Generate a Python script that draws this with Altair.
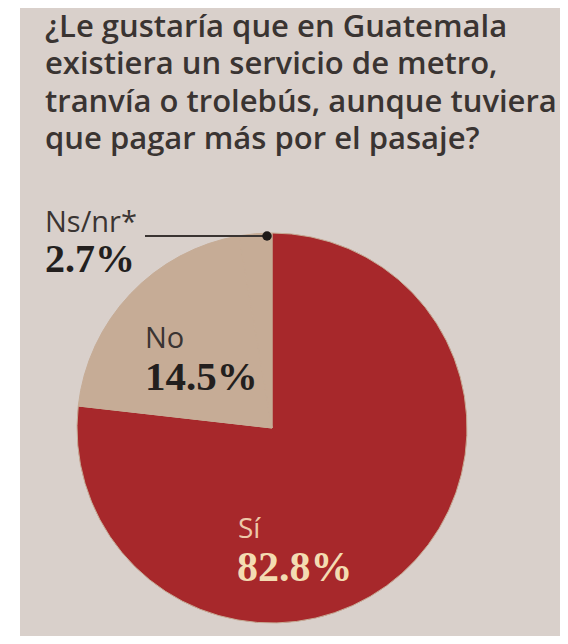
import altair as alt
import pandas as pd

# ---- data ----
categories = ["Sí", "No", "Ns/nr*"]
printed_pct = [82.8, 14.5, 2.7]          # values printed on the graphic
drawn_pct = [76.8, 20.5, 2.7]            # slice sizes as actually drawn in the graphic
slice_order = [1, 2, 3]
title_lines = [
    "¿Le gustaría que en Guatemala",
    "existiera un servicio de metro,",
    "tranvía o trolebús, aunque tuviera",
    "que pagar más por el pasaje?",
]

df = pd.DataFrame({"cat": categories, "drawn": drawn_pct, "order": slice_order})
one = pd.DataFrame({"k": [0]})

BG = "#d9d0cb"
RED = "#a7282b"
TAN = "#c6ac96"
INK = "#3a3432"
CREAM = "#f3dcb2"

SANS = "Open Sans"
SLAB = "Liberation Serif"

pie = alt.Chart(df).mark_arc(radius=195, stroke=TAN, strokeWidth=1).encode(
    theta=alt.Theta("drawn:Q", stack=True),
    order=alt.Order("order:Q"),
    color=alt.Color("cat:N", scale=alt.Scale(domain=categories, range=[RED, TAN, TAN]), legend=None),
    x=alt.value(252),
    y=alt.value(420),
)


def txt(s, x, y, size, weight="normal", font=SANS, color=INK):
    return alt.Chart(one).mark_text(
        align="left", baseline="alphabetic", font=font, fontSize=size,
        fontWeight=weight, color=color,
    ).encode(x=alt.value(x), y=alt.value(y), text=alt.value(s))


layers = [pie]
for i, line in enumerate(title_lines):
    layers.append(txt(line, 25, 29 + i * 37.3, 31, 600))

leader = alt.Chart(one).mark_rule(color=INK, strokeWidth=2).encode(
    x=alt.value(125), x2=alt.value(247), y=alt.value(228)
)
dot = alt.Chart(one).mark_circle(size=90, color="#1e1a19", opacity=1).encode(
    x=alt.value(247), y=alt.value(228)
)
layers += [leader, dot]

layers.append(txt(categories[2], 25, 224, 29))
layers.append(txt(f"{printed_pct[2]}%", 25, 264, 40, "bold", SLAB, "#231f1e"))
layers.append(txt(categories[1], 125, 340, 29))
layers.append(txt(f"{printed_pct[1]}%", 125, 382, 41, "bold", SLAB, "#231f1e"))
layers.append(txt(categories[0], 218, 530, 28, color="#edc8a8"))
layers.append(txt(f"{printed_pct[0]}%", 217, 573, 42, "bold", SLAB, CREAM))

chart = alt.layer(*layers).properties(
    width=540,
    height=628,
    padding={"left": 12, "top": 0, "right": 0, "bottom": 0},
    autosize=alt.AutoSizeParams(type="none"),
    background="white",
).configure_view(fill=BG, strokeWidth=0)

chart.save("out.html", embed_options={"renderer": "svg", "actions": False})
